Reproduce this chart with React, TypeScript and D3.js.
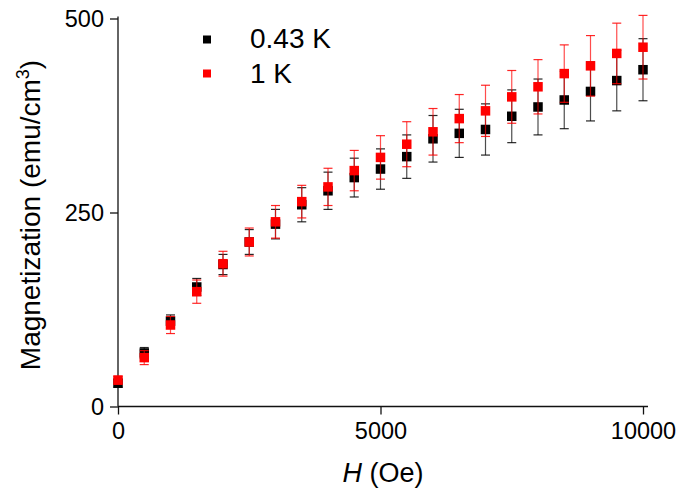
import React, { useEffect, useRef } from 'react';
import * as d3 from 'd3';

const fields = [0, 500, 1000, 1500, 2000, 2500, 3000, 3500, 4000, 4500, 5000, 5500, 6000, 6500, 7000, 7500, 8000, 8500, 9000, 9500, 10000];

const m043 = [30, 69, 110, 154, 183, 212, 235, 260, 278, 295, 306, 322, 345, 352, 357, 374, 386, 395, 406, 420, 434];
const e043 = [5, 7, 8, 11, 13, 16, 19, 22, 24, 25, 26, 28, 30, 31, 33, 34, 36, 37, 38, 39, 40];

const m1 = [34, 63, 105, 148, 184, 212, 238, 264, 283, 304, 321, 338, 354, 371, 381, 399, 412, 429, 439, 455, 463];
const e1 = [5, 9, 11, 15, 16, 18, 21, 21, 24, 26, 28, 29, 30, 31, 33, 34, 35, 37, 39, 39, 41];

const xTicks = [0, 5000, 10000];
const yTicks = [0, 250, 500];

const seriesList = [
  { name: '0.43 K', color: '#000000', values: m043, errors: e043 },
  { name: '1 K', color: '#ff0000', values: m1, errors: e1 },
];

const W = 680;
const H = 492;
const font = '"Liberation Sans", Arial, sans-serif';

export default function App() {
  const ref = useRef<SVGSVGElement | null>(null);

  useEffect(() => {
    const svg = d3.select(ref.current);
    svg.selectAll('*').remove();

    const x = d3.scaleLinear().domain([0, 10000]).range([118, 643]);
    const y = d3.scaleLinear().domain([0, 500]).range([406.5, 18.5]);

    // axes
    const xAxis = svg.append('g')
      .attr('transform', `translate(0,${y(0)})`)
      .call(d3.axisBottom(x).tickValues(xTicks).tickFormat(d3.format('d')).tickSize(8).tickSizeOuter(0).tickPadding(8));
    xAxis.select('.domain').remove();
    xAxis.append('line')
      .attr('x1', x(0)).attr('x2', x(10000) + 5)
      .attr('stroke', '#111').attr('stroke-width', 1.3);

    const yAxis = svg.append('g')
      .attr('transform', `translate(${x(0)},0)`)
      .call(d3.axisLeft(y).tickValues(yTicks).tickFormat(d3.format('d')).tickSize(8).tickSizeOuter(0).tickPadding(6));
    yAxis.select('.domain').remove();
    yAxis.append('line')
      .attr('y1', y(0)).attr('y2', y(500) - 2)
      .attr('stroke', '#111').attr('stroke-width', 1.3);

    svg.selectAll('.tick line').attr('stroke', '#111').attr('stroke-width', 1.3);
    svg.selectAll('.tick text')
      .attr('font-family', font)
      .attr('font-size', 23.5)
      .attr('fill', '#000');

    // data
    const sq = 9.5;
    const cap = 4.5;
    seriesList.forEach(s => {
      const g = svg.append('g');
      const rows = fields.map((f, i) => ({ f, v: s.values[i], e: s.errors[i] }));
      const bars = g.selectAll('g.err').data(rows).join('g').attr('class', 'err')
        .attr('stroke', s.color).attr('stroke-width', 1.2);
      bars.append('line')
        .attr('x1', d => x(d.f)).attr('x2', d => x(d.f))
        .attr('y1', d => y(d.v - d.e)).attr('y2', d => y(d.v + d.e))
        .attr('stroke-opacity', 0.7);
      bars.append('line')
        .attr('x1', d => x(d.f) - cap).attr('x2', d => x(d.f) + cap)
        .attr('y1', d => y(d.v + d.e)).attr('y2', d => y(d.v + d.e))
        .attr('stroke-opacity', 0.85);
      bars.append('line')
        .attr('x1', d => x(d.f) - cap).attr('x2', d => x(d.f) + cap)
        .attr('y1', d => y(d.v - d.e)).attr('y2', d => y(d.v - d.e))
        .attr('stroke-opacity', 0.85);
      g.selectAll('rect').data(rows).join('rect')
        .attr('x', d => x(d.f) - sq / 2)
        .attr('y', d => y(d.v) - sq / 2)
        .attr('width', sq).attr('height', sq)
        .attr('fill', s.color);
    });

    // legend
    const legend = svg.append('g');
    seriesList.forEach((s, i) => {
      legend.append('rect')
        .attr('x', 203).attr('y', 35.5 + i * 34)
        .attr('width', 8).attr('height', 8)
        .attr('fill', s.color);
      legend.append('text')
        .attr('x', 250).attr('y', 48 + i * 35)
        .attr('font-family', font).attr('font-size', 28)
        .text(s.name);
    });

    // axis titles
    const xt = svg.append('text')
      .attr('x', 383).attr('y', 482)
      .attr('text-anchor', 'middle')
      .attr('font-family', font).attr('font-size', 27);
    xt.append('tspan').attr('font-style', 'italic').text('H');
    xt.append('tspan').text(' (Oe)');

    const yt = svg.append('text')
      .attr('transform', 'translate(40,215) rotate(-90)')
      .attr('text-anchor', 'middle')
      .attr('font-family', font).attr('font-size', 28);
    yt.append('tspan').text('Magnetization (emu/cm');
    yt.append('tspan').attr('font-size', 18).attr('dy', -11).text('3');
    yt.append('tspan').attr('dy', 11).text(')');
  }, []);

  return (
    <svg ref={ref} width={W} height={H}
      style={{ position: 'absolute', left: 0, top: 0, background: '#fff' }} />
  );
}
